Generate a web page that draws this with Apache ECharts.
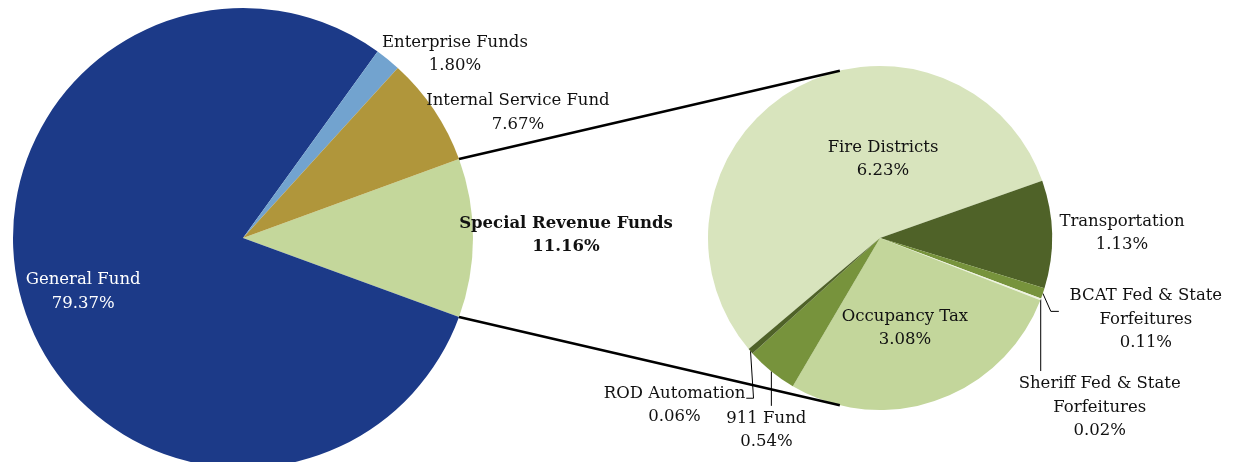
<!DOCTYPE html>
<html><head><meta charset="utf-8">
<script src="https://cdn.jsdelivr.net/npm/echarts@6/dist/echarts.min.js"></script>
<style>html,body{margin:0;padding:0;background:#fff}#c{width:1233px;height:462px}</style>
</head><body><div id="c"></div>
<script>
// ---- data ----
const mainNames = ['Special Revenue Funds', 'General Fund', 'Enterprise Funds', 'Internal Service Fund'];
const mainValues = [11.16, 79.37, 1.80, 7.67];
const subNames = ['Fire Districts', 'Transportation', 'BCAT Fed & State\nForfeitures', 'Sheriff Fed & State\nForfeitures', 'Occupancy Tax', '911 Fund', 'ROD Automation'];
const subValues = [6.23, 1.13, 0.11, 0.02, 3.08, 0.54, 0.06];

// ---- styles / layout ----
const mainColors = ['#c4d79b', '#1c3a88', '#72a3cf', '#b0963b'];
const subColors = ['#d8e4bd', '#4f6228', '#77933c', '#eef3e0', '#c3d69b', '#77933c', '#4f6228'];
const FONT = 'DejaVu Serif';
const L = { cx: 243, cy: 238, r: 230 };
const R = { cx: 880, cy: 238, r: 172 };
const sum = a => a.reduce((s, v) => s + v, 0);
const mainStart = 180 * mainValues[0] / sum(mainValues); // centre the exploded slice on the right
const subStart = 220.2;
const connectorAngle = 103.5;

function midAngles(vals, start) {
  const t = sum(vals); let a = start; const out = [];
  vals.forEach(v => { const sw = 360 * v / t; out.push(a - sw / 2); a -= sw; });
  return out;
}
const mainMid = midAngles(mainValues, mainStart);
const subMid = midAngles(subValues, subStart);
const rad = d => d * Math.PI / 180;
const polar = (P, ang, k) => [P.cx + k * P.r * Math.cos(rad(ang)), P.cy - k * P.r * Math.sin(rad(ang))];

// label placement: anchor at k*radius along mid angle, plus pixel offset
const mainLabelPos = [
  { k: 1, dx: 93, dy: -3 },
  { k: 0.736, dx: 2, dy: 4 },
  { k: 1, dx: 67, dy: -5 },
  { k: 1, dx: 84, dy: 3 }
];
const subLabelPos = [
  { k: 0, dx: 3, dy: -79 },
  { k: 1, dx: 70, dy: -1 },
  { k: 1, dx: 103, dy: 26, leader: 'bend' },
  { k: 1, dx: 59, dy: 108, leader: 'down' },
  { k: 0, dx: 25, dy: 90 },
  { k: 1, dx: -5, dy: 59, leader: 'down' },
  { k: 1, dx: -76, dy: 54, leader: 'side' }
];

function makeLayout(P, mids, pos) {
  return function (p) {
    const i = p.dataIndex, c = pos[i];
    const a = polar(P, mids[i], c.k);
    const x = a[0] + c.dx, y = a[1] + c.dy;
    const res = { x: x, y: y, align: 'center', verticalAlign: 'middle' };
    if (c.leader) {
      const e = polar(P, mids[i], 1);
      const h = p.labelRect.height, w = p.labelRect.width;
      if (c.leader === 'down') res.labelLinePoints = [e, [e[0], y - h / 2 - 1]];
      else if (c.leader === 'bend') res.labelLinePoints = [e, [e[0] + 8, e[1] + 18], [e[0] + 16, e[1] + 18]];
      else res.labelLinePoints = [e, [e[0] + 3, y - 7], [x + w / 2 + 1, y - 7]];
    }
    return res;
  };
}
const fmt = p => p.name + '\n' + p.value.toFixed(2) + '%';

const mainData = mainNames.map((n, i) => ({
  name: n, value: mainValues[i],
  itemStyle: { color: mainColors[i] },
  label: n === 'General Fund' ? { color: '#ffffff' } : (n === 'Special Revenue Funds' ? { fontWeight: 'bold' } : {}),
  labelLine: { show: false }
}));
const subData = subNames.map((n, i) => ({
  name: n, value: subValues[i],
  itemStyle: { color: subColors[i] },
  labelLine: { show: !!subLabelPos[i].leader }
}));

const labelBase = { show: true, position: 'outside', formatter: fmt, fontFamily: FONT, fontSize: 16.5, lineHeight: 23.5, color: '#111111' };

const lp1 = polar(L, mainStart, 1), rp1 = polar(R, connectorAngle, 1);
const lp2 = polar(L, -mainStart, 1), rp2 = polar(R, -connectorAngle, 1);

const option = {
  animation: false,
  backgroundColor: '#ffffff',
  series: [
    {
      type: 'pie', center: [L.cx, L.cy], radius: L.r, startAngle: mainStart, clockwise: true,
      avoidLabelOverlap: false, silent: true,
      itemStyle: { borderWidth: 0 },
      label: labelBase,
      labelLine: { show: false },
      labelLayout: makeLayout(L, mainMid, mainLabelPos),
      data: mainData
    },
    {
      type: 'pie', center: [R.cx, R.cy], radius: R.r, startAngle: subStart, clockwise: true,
      avoidLabelOverlap: false, silent: true, minAngle: 0,
      itemStyle: { borderWidth: 0 },
      label: labelBase,
      labelLine: { show: true, length: 5, length2: 5, lineStyle: { color: '#000000', width: 1 } },
      labelLayout: makeLayout(R, subMid, subLabelPos),
      data: subData
    }
  ],
  graphic: [
    { type: 'line', z: 100, shape: { x1: lp1[0], y1: lp1[1], x2: rp1[0], y2: rp1[1] }, style: { stroke: '#000', lineWidth: 2.5 } },
    { type: 'line', z: 100, shape: { x1: lp2[0], y1: lp2[1], x2: rp2[0], y2: rp2[1] }, style: { stroke: '#000', lineWidth: 2.5 } }
  ]
};
const chart = echarts.init(document.getElementById('c'), null, { renderer: 'canvas' });
chart.setOption(option);
</script></body></html>
